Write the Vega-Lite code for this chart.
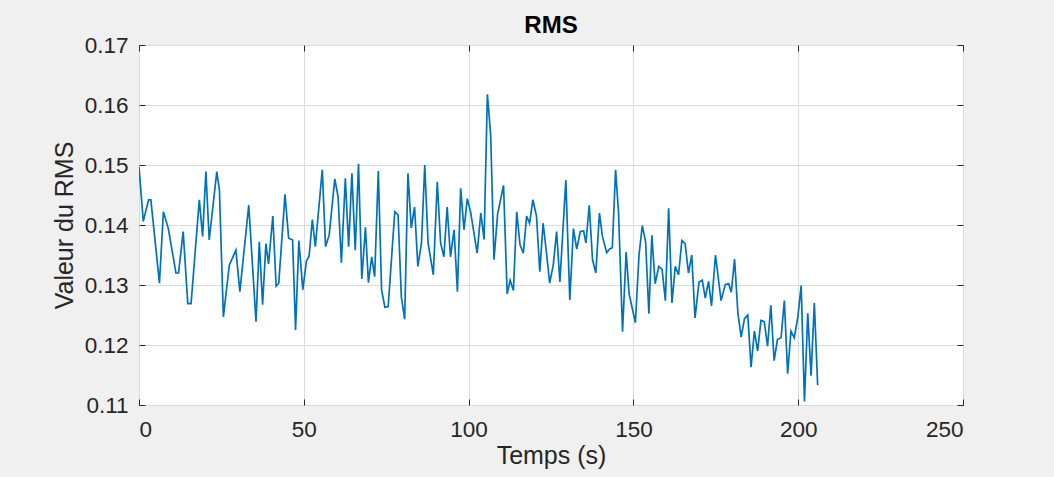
{
  "$schema": "https://vega.github.io/schema/vega-lite/v6.json",
  "width": 824,
  "height": 360,
  "autosize": "none",
  "padding": {"left": 139, "top": 45, "right": 91, "bottom": 72},
  "background": "#f0f0f0",
  "title": {"text": "RMS", "font": "Liberation Sans", "fontSize": 24, "fontWeight": "bold", "color": "#000000", "offset": 0, "dy": 4},
  "config": {
    "view": {"fill": "#ffffff", "stroke": "#262626", "strokeWidth": 1},
    "axis": {
      "labelFont": "Liberation Sans",
      "titleFont": "Liberation Sans",
      "labelFontSize": 22.5,
      "titleFontSize": 25,
      "titleFontWeight": "normal",
      "labelColor": "#262626",
      "titleColor": "#262626",
      "domain": false,
      "tickColor": "#262626",
      "gridColor": "#dcdcdc",
      "gridWidth": 1
    }
  },
  "data": {
    "values": [
      {"t": 0, "rms": 0.1497}, {"t": 1.3, "rms": 0.1406}, {"t": 2.9, "rms": 0.1442}, {"t": 3.6, "rms": 0.1442},
      {"t": 6.2, "rms": 0.1303}, {"t": 7.4, "rms": 0.1422}, {"t": 8.9, "rms": 0.1394}, {"t": 11.2, "rms": 0.132},
      {"t": 12.0, "rms": 0.132}, {"t": 13.4, "rms": 0.1389}, {"t": 14.8, "rms": 0.1269}, {"t": 15.8, "rms": 0.1269},
      {"t": 18.3, "rms": 0.1442}, {"t": 19.3, "rms": 0.1381}, {"t": 20.3, "rms": 0.1489}, {"t": 21.3, "rms": 0.1375},
      {"t": 23.6, "rms": 0.1489}, {"t": 24.4, "rms": 0.1458}, {"t": 25.6, "rms": 0.1247}, {"t": 27.4, "rms": 0.1333},
      {"t": 29.4, "rms": 0.1358}, {"t": 30.6, "rms": 0.1289}, {"t": 33.3, "rms": 0.1433}, {"t": 35.5, "rms": 0.1239},
      {"t": 36.5, "rms": 0.1372}, {"t": 37.5, "rms": 0.1267}, {"t": 38.5, "rms": 0.1369}, {"t": 39.3, "rms": 0.1335},
      {"t": 40.6, "rms": 0.1415}, {"t": 41.6, "rms": 0.1298}, {"t": 42.4, "rms": 0.1303}, {"t": 44.3, "rms": 0.1451},
      {"t": 45.4, "rms": 0.1378}, {"t": 46.6, "rms": 0.1375}, {"t": 47.5, "rms": 0.1225}, {"t": 48.5, "rms": 0.1374},
      {"t": 49.7, "rms": 0.1292}, {"t": 50.8, "rms": 0.134}, {"t": 51.6, "rms": 0.1348}, {"t": 52.6, "rms": 0.1409},
      {"t": 53.5, "rms": 0.1364}, {"t": 55.6, "rms": 0.1492}, {"t": 56.6, "rms": 0.1364}, {"t": 57.7, "rms": 0.1383},
      {"t": 59.4, "rms": 0.1477}, {"t": 60.4, "rms": 0.1447}, {"t": 61.4, "rms": 0.1337}, {"t": 62.6, "rms": 0.1478},
      {"t": 63.6, "rms": 0.1364}, {"t": 64.6, "rms": 0.1486}, {"t": 65.6, "rms": 0.1358}, {"t": 66.6, "rms": 0.1502},
      {"t": 67.6, "rms": 0.131}, {"t": 68.7, "rms": 0.1396}, {"t": 69.6, "rms": 0.1304}, {"t": 70.6, "rms": 0.1347},
      {"t": 71.5, "rms": 0.1314}, {"t": 72.6, "rms": 0.149}, {"t": 73.6, "rms": 0.1292}, {"t": 74.6, "rms": 0.1263},
      {"t": 75.6, "rms": 0.1264}, {"t": 77.6, "rms": 0.1422}, {"t": 78.6, "rms": 0.1417}, {"t": 79.6, "rms": 0.128},
      {"t": 80.6, "rms": 0.1243}, {"t": 81.6, "rms": 0.1486}, {"t": 82.6, "rms": 0.1395}, {"t": 83.6, "rms": 0.143},
      {"t": 84.6, "rms": 0.1331}, {"t": 85.7, "rms": 0.137}, {"t": 86.7, "rms": 0.15}, {"t": 87.7, "rms": 0.137},
      {"t": 89.3, "rms": 0.1317}, {"t": 90.5, "rms": 0.1472}, {"t": 91.5, "rms": 0.137}, {"t": 92.5, "rms": 0.1347},
      {"t": 93.5, "rms": 0.143}, {"t": 94.5, "rms": 0.1347}, {"t": 95.6, "rms": 0.1392}, {"t": 96.6, "rms": 0.1289},
      {"t": 97.6, "rms": 0.1461}, {"t": 98.6, "rms": 0.1392}, {"t": 99.6, "rms": 0.1444}, {"t": 100.6, "rms": 0.1422},
      {"t": 102.6, "rms": 0.1353}, {"t": 103.7, "rms": 0.142}, {"t": 104.7, "rms": 0.1376}, {"t": 105.7, "rms": 0.1618},
      {"t": 106.7, "rms": 0.155}, {"t": 107.7, "rms": 0.1342}, {"t": 108.8, "rms": 0.1418}, {"t": 110.6, "rms": 0.1466},
      {"t": 111.7, "rms": 0.1285}, {"t": 112.6, "rms": 0.1308}, {"t": 113.6, "rms": 0.1291}, {"t": 114.6, "rms": 0.1422},
      {"t": 115.6, "rms": 0.1367}, {"t": 116.6, "rms": 0.1353}, {"t": 117.6, "rms": 0.1415}, {"t": 118.5, "rms": 0.1403},
      {"t": 119.5, "rms": 0.1442}, {"t": 120.6, "rms": 0.1415}, {"t": 121.6, "rms": 0.1322}, {"t": 122.6, "rms": 0.1403},
      {"t": 123.6, "rms": 0.1355}, {"t": 124.6, "rms": 0.1303}, {"t": 125.7, "rms": 0.1334}, {"t": 126.7, "rms": 0.1389},
      {"t": 127.7, "rms": 0.1305}, {"t": 129.5, "rms": 0.1475}, {"t": 130.7, "rms": 0.1275}, {"t": 131.8, "rms": 0.1394},
      {"t": 132.8, "rms": 0.136}, {"t": 133.9, "rms": 0.1389}, {"t": 134.9, "rms": 0.139}, {"t": 135.6, "rms": 0.137},
      {"t": 136.6, "rms": 0.1433}, {"t": 137.6, "rms": 0.1342}, {"t": 138.6, "rms": 0.132}, {"t": 139.7, "rms": 0.142},
      {"t": 140.6, "rms": 0.1381}, {"t": 141.9, "rms": 0.1354}, {"t": 142.8, "rms": 0.136}, {"t": 143.6, "rms": 0.1362},
      {"t": 144.6, "rms": 0.1492}, {"t": 145.5, "rms": 0.142}, {"t": 146.7, "rms": 0.1222}, {"t": 147.8, "rms": 0.1355},
      {"t": 148.7, "rms": 0.1285}, {"t": 150.6, "rms": 0.1237}, {"t": 151.7, "rms": 0.135}, {"t": 152.7, "rms": 0.1399},
      {"t": 153.7, "rms": 0.1372}, {"t": 154.7, "rms": 0.1252}, {"t": 155.6, "rms": 0.1383}, {"t": 156.6, "rms": 0.1302},
      {"t": 157.7, "rms": 0.1331}, {"t": 158.7, "rms": 0.1326}, {"t": 159.7, "rms": 0.1274}, {"t": 160.7, "rms": 0.1428},
      {"t": 161.7, "rms": 0.127}, {"t": 162.7, "rms": 0.1331}, {"t": 163.7, "rms": 0.1317}, {"t": 164.7, "rms": 0.1374},
      {"t": 165.7, "rms": 0.1369}, {"t": 166.7, "rms": 0.132}, {"t": 167.7, "rms": 0.135}, {"t": 168.7, "rms": 0.1245},
      {"t": 169.9, "rms": 0.1305}, {"t": 170.9, "rms": 0.1308}, {"t": 171.8, "rms": 0.1278}, {"t": 172.8, "rms": 0.1306},
      {"t": 173.7, "rms": 0.1265}, {"t": 174.9, "rms": 0.135}, {"t": 176.6, "rms": 0.1274}, {"t": 177.9, "rms": 0.1301},
      {"t": 178.9, "rms": 0.1302}, {"t": 179.7, "rms": 0.1288}, {"t": 180.7, "rms": 0.1343}, {"t": 181.7, "rms": 0.1253},
      {"t": 182.7, "rms": 0.1213}, {"t": 183.7, "rms": 0.1244}, {"t": 184.7, "rms": 0.125}, {"t": 185.7, "rms": 0.1163},
      {"t": 186.7, "rms": 0.1223}, {"t": 187.7, "rms": 0.119}, {"t": 188.7, "rms": 0.1241}, {"t": 189.7, "rms": 0.1239},
      {"t": 190.7, "rms": 0.1198}, {"t": 191.7, "rms": 0.1266}, {"t": 192.7, "rms": 0.1174}, {"t": 193.7, "rms": 0.1209},
      {"t": 194.8, "rms": 0.1212}, {"t": 195.8, "rms": 0.1274}, {"t": 196.8, "rms": 0.1152}, {"t": 197.8, "rms": 0.1223},
      {"t": 198.8, "rms": 0.1212}, {"t": 199.9, "rms": 0.1247}, {"t": 200.9, "rms": 0.1299}, {"t": 201.9, "rms": 0.1106},
      {"t": 202.9, "rms": 0.1253}, {"t": 203.9, "rms": 0.1149}, {"t": 204.9, "rms": 0.127}, {"t": 205.9, "rms": 0.1133}
    ]
  },
  "layer": [
    {
      "mark": {"type": "line", "color": "#0072BD", "strokeWidth": 1.7, "clip": true},
      "encoding": {
        "x": {
          "field": "t", "type": "quantitative",
          "scale": {"domain": [0, 250], "nice": false, "zero": false},
          "axis": {"orient": "bottom", "title": "Temps (s)", "values": [0, 50, 100, 150, 200, 250], "grid": true, "tickSize": -6, "labelPadding": 19, "titlePadding": 3}
        },
        "y": {
          "field": "rms", "type": "quantitative",
          "scale": {"domain": [0.11, 0.17], "nice": false, "zero": false},
          "axis": {"orient": "left", "title": "Valeur du RMS", "values": [0.11, 0.12, 0.13, 0.14, 0.15, 0.16, 0.17], "format": ".2f", "grid": true, "tickSize": -6, "labelPadding": 17, "titlePadding": 7}
        }
      }
    },
    {
      "mark": {"type": "line", "opacity": 0},
      "encoding": {
        "x": {
          "field": "t", "type": "quantitative",
          "axis": {"orient": "top", "title": null, "labels": false, "grid": false, "values": [0, 50, 100, 150, 200, 250], "tickSize": -6}
        },
        "y": {
          "field": "rms", "type": "quantitative",
          "axis": {"orient": "right", "title": null, "labels": false, "grid": false, "values": [0.11, 0.12, 0.13, 0.14, 0.15, 0.16, 0.17], "tickSize": -6}
        }
      }
    }
  ]
}
